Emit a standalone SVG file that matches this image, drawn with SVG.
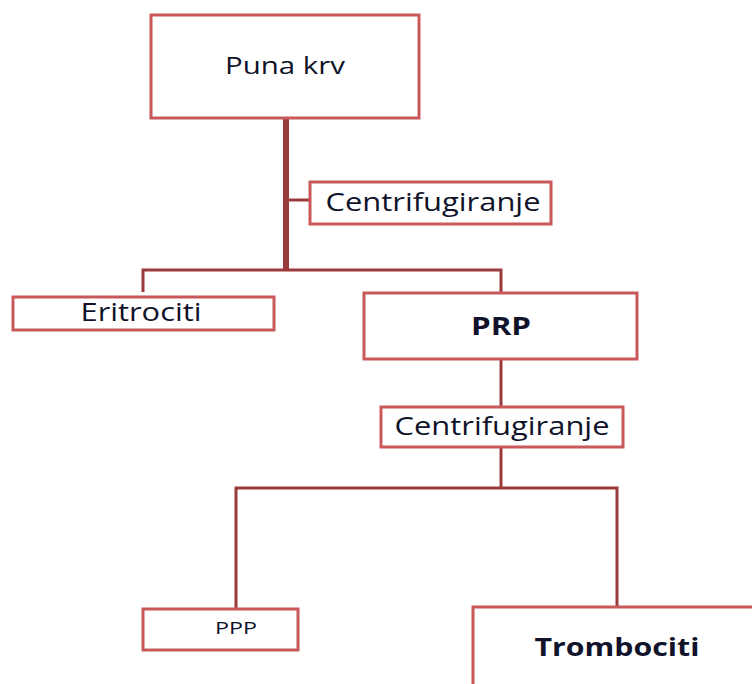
<svg xmlns="http://www.w3.org/2000/svg" width="752" height="684" viewBox="0 0 752 684">
<style>
.box{fill:#fff;stroke:#c9585a;stroke-width:3}
.t{font-family:"Open Sans","Noto Sans","Liberation Sans",sans-serif;fill:#10132a;text-anchor:middle}
.c{fill:none;stroke:#9a3a3b;stroke-width:3}
</style>
<rect width="752" height="684" fill="#fff"/>
<g id="connectors">
<line class="c" x1="286" y1="118" x2="286" y2="270" style="stroke-width:6"/>
<line class="c" x1="286" y1="200" x2="310" y2="200"/>
<polyline class="c" points="143,292 143,270 501,270 501,293"/>
<line class="c" x1="501" y1="359" x2="501" y2="407"/>
<line class="c" x1="501" y1="447" x2="501" y2="488"/>
<polyline class="c" points="236,609 236,488 617,488 617,607"/>
</g>
<g id="puna-krv"><rect class="box" x="151" y="15" width="268" height="103"/><text class="t" x="285" y="74" font-size="23" textLength="120" lengthAdjust="spacingAndGlyphs">Puna krv</text></g>
<g id="centrifugiranje-1"><rect class="box" x="310" y="182" width="241" height="42"/><text class="t" x="433" y="211" font-size="25" textLength="215" lengthAdjust="spacingAndGlyphs">Centrifugiranje</text></g>
<g id="eritrociti"><rect class="box" x="13" y="297" width="261" height="33"/><text class="t" x="141" y="321" font-size="25" textLength="121" lengthAdjust="spacingAndGlyphs">Eritrociti</text></g>
<g id="prp"><rect class="box" x="364" y="293" width="273" height="66"/><text class="t" x="501" y="335" font-size="25" font-weight="bold" textLength="60" lengthAdjust="spacingAndGlyphs">PRP</text></g>
<g id="centrifugiranje-2"><rect class="box" x="381" y="407" width="242" height="40"/><text class="t" x="502" y="435" font-size="25" textLength="215" lengthAdjust="spacingAndGlyphs">Centrifugiranje</text></g>
<g id="ppp"><rect class="box" x="143" y="609" width="155" height="41"/><text class="t" x="236" y="634" font-size="16" textLength="42" lengthAdjust="spacingAndGlyphs">PPP</text></g>
<g id="trombociti"><rect class="box" x="473" y="607" width="290" height="90"/><text class="t" x="617" y="656" font-size="25" font-weight="bold" textLength="165" lengthAdjust="spacingAndGlyphs">Trombociti</text></g>
</svg>
